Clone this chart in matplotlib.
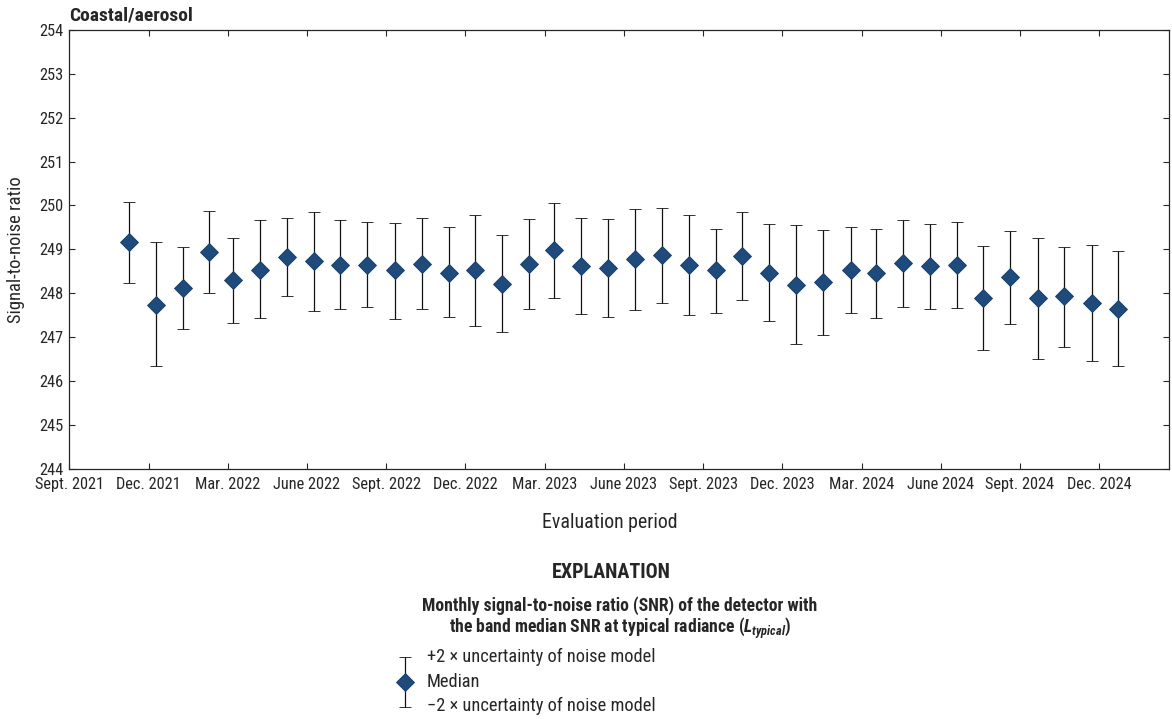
import numpy as np
import matplotlib
matplotlib.use("Agg")
import matplotlib.pyplot as plt
from matplotlib import font_manager

# look for a condensed face; the original uses a condensed sans
fam, stretch = "Liberation Sans", "normal"
cands = []
for f in font_manager.fontManager.ttflist:
    s = str(f.stretch)
    if 'Narrow' in f.name or 'Condensed' in f.name or s in ('condensed', 'semi-condensed', '500', '400', '300'):
        cands.append((f.name, s))
pref = ['Liberation Sans Narrow', 'Roboto Condensed', 'Open Sans Condensed', 'DejaVu Sans']
for p in pref:
    hit = [c for c in cands if c[0] == p]
    if hit:
        fam = p
        stretch = 'condensed' if p == 'DejaVu Sans' else 'normal'
        break
plt.rcParams['font.family'] = [fam, 'DejaVu Sans']
plt.rcParams['font.stretch'] = stretch
plt.rcParams['mathtext.fontset'] = 'custom'
plt.rcParams['mathtext.it'] = fam + ':bold:italic'
plt.rcParams['mathtext.rm'] = fam + ':bold'

# months since Sept. 2021
month_pos = [2.26, 3.27, 4.31, 5.28, 6.19, 7.22, 8.23, 9.27, 10.25, 11.27,
             12.33, 13.34, 14.36, 15.36, 16.38, 17.41, 18.35, 19.39, 20.39, 21.42,
             22.43, 23.45, 24.48, 25.47, 26.51, 27.52, 28.54, 29.59, 30.55, 31.58,
             32.58, 33.61, 34.61, 35.63, 36.67, 37.66, 38.72, 39.72]
snr_median = [249.17, 247.74, 248.12, 248.93, 248.30, 248.54, 248.83, 248.73, 248.64, 248.65,
              248.52, 248.67, 248.47, 248.52, 248.22, 248.66, 248.98, 248.62, 248.58, 248.77,
              248.86, 248.64, 248.53, 248.85, 248.47, 248.19, 248.25, 248.54, 248.46, 248.70,
              248.62, 248.64, 247.89, 248.37, 247.88, 247.93, 247.78, 247.65]
snr_upper = [250.08, 249.16, 249.05, 249.87, 249.27, 249.66, 249.71, 249.84, 249.66, 249.62,
             249.61, 249.71, 249.50, 249.78, 249.33, 249.69, 250.05, 249.71, 249.69, 249.92,
             249.94, 249.79, 249.46, 249.86, 249.58, 249.55, 249.44, 249.50, 249.47, 249.68,
             249.58, 249.62, 249.08, 249.41, 249.27, 249.06, 249.11, 248.96]
snr_lower = [248.24, 246.34, 247.18, 248.00, 247.33, 247.43, 247.93, 247.60, 247.64, 247.68,
             247.42, 247.64, 247.45, 247.26, 247.11, 247.64, 247.90, 247.53, 247.46, 247.62,
             247.78, 247.51, 247.56, 247.84, 247.37, 246.84, 247.04, 247.55, 247.43, 247.68,
             247.65, 247.67, 246.70, 247.30, 246.50, 246.77, 246.45, 246.34]
tick_months = [0, 3, 6, 9, 12, 15, 18, 21, 24, 27, 30, 33, 36, 39]
tick_labels = ['Sept. 2021', 'Dec. 2021', 'Mar. 2022', 'June 2022', 'Sept. 2022',
               'Dec. 2022', 'Mar. 2023', 'June 2023', 'Sept. 2023', 'Dec. 2023',
               'Mar. 2024', 'June 2024', 'Sept. 2024', 'Dec. 2024']

blue = '#1f4a7c'
ink = '#262626'
W, H = 1172, 719
fig = plt.figure(figsize=(W / 100, H / 100), dpi=100)
ax = fig.add_axes([69.3 / W, 1 - 468.7 / H, (1169 - 69.3) / W, (468.7 - 30) / H])

med = np.array(snr_median)
yerr = [med - np.array(snr_lower), np.array(snr_upper) - med]
ax.errorbar(month_pos, med, yerr=yerr, fmt='D', color=blue, ms=8.8,
            mec='#173a63', mew=0.6, ecolor='#111111', elinewidth=0.9,
            capsize=4, capthick=0.9)

ax.set_xlim(0, 41.64)
ax.set_ylim(244, 254)
ax.set_yticks(range(244, 255))
ax.set_xticks(tick_months)
ax.set_xticklabels(tick_labels)
ax.tick_params(direction='in', length=4, width=0.8, top=True, right=True,
               labelsize=11.8, colors=ink)
ax.tick_params(axis='x', pad=6)
ax.tick_params(axis='y', pad=4)
for s in ax.spines.values():
    s.set_linewidth(0.9)
    s.set_color(ink)

ax.set_ylabel('Signal-to-noise ratio', fontsize=13.3, color=ink)
ax.yaxis.set_label_coords(-0.0405, 0.5)
fig.text(69 / W, 1 - 15 / H, 'Coastal/aerosol', fontsize=14, fontweight='bold',
         ha='left', va='center', color=ink)
fig.text(610 / W, 1 - 522 / H, 'Evaluation period', fontsize=14.3,
         ha='center', va='center', color=ink)

# explanation block
fig.text(611 / W, 1 - 572 / H, 'EXPLANATION', fontsize=14.5, fontweight='bold',
         ha='center', va='center', color=ink)
fig.text(620 / W, 1 - 606 / H,
         'Monthly signal-to-noise ratio (SNR) of the detector with',
         fontsize=12.7, fontweight='bold', ha='center', va='center', color=ink)
fig.text(620 / W, 1 - 628 / H,
         'the band median SNR at typical radiance ($L_{typical}$)',
         fontsize=12.7, fontweight='bold', ha='center', va='center', color=ink)

lax = fig.add_axes([385 / W, 1 - 712 / H, 40 / W, 60 / H])
lax.errorbar([0], [0], yerr=[[1], [1]], fmt='D', color=blue, ms=8.8,
             mec='#173a63', mew=0.6, ecolor='#111111', elinewidth=0.9,
             capsize=4, capthick=0.9)
lax.set_xlim(-1, 1)
lax.set_ylim(-1.2, 1.2)
lax.axis('off')

fig.text(427 / W, 1 - 657 / H, '+2 \u00d7 uncertainty of noise model', fontsize=13.2,
         ha='left', va='center', color=ink)
fig.text(427 / W, 1 - 682 / H, 'Median', fontsize=13.2,
         ha='left', va='center', color=ink)
fig.text(427 / W, 1 - 706 / H, '\u22122 \u00d7 uncertainty of noise model', fontsize=13.2,
         ha='left', va='center', color=ink)

fig.savefig('out.png', dpi=100)
